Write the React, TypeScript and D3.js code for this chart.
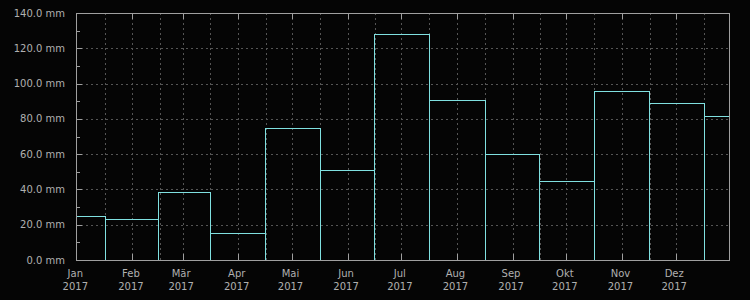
import React from "react";
import * as d3 from "d3";

// Monthly bars, each centred on the first day of its month
const monthStarts: string[] = [
  "2017-01-01", "2017-02-01", "2017-03-01", "2017-04-01", "2017-05-01", "2017-06-01",
  "2017-07-01", "2017-08-01", "2017-09-01", "2017-10-01", "2017-11-01", "2017-12-01", "2018-01-01",
];
const rainValues: number[] = [25, 23, 38.4, 15.1, 74.7, 50.8, 128, 90.5, 60, 44.6, 95.6, 88.8, 81.5];

const monthLabels: string[] = ["Jan", "Feb", "Mär", "Apr", "Mai", "Jun", "Jul", "Aug", "Sep", "Okt", "Nov", "Dez"];
const yearLabel = "2017";
const yTicks: number[] = [0, 20, 40, 60, 80, 100, 120, 140];
const yMinorTicks: number[] = [10, 30, 50, 70, 90, 110, 130];

const W = 750, H = 300;
const M = { left: 76, right: 729, top: 13, bottom: 260 };

const BG = "#050505";
const AXIS = "#a0a0a0";
const GRID = "#555555";
const TEXT = "#b0b0b0";
const BAR = "#80e0e0";
const FONT = "'DejaVu Sans', sans-serif";

export default function App() {
  const x = d3
    .scaleUtc()
    .domain([new Date(Date.UTC(2016, 11, 31, 13)), new Date(Date.UTC(2017, 11, 30, 17))])
    .range([M.left, M.right]);
  const y = d3.scaleLinear().domain([0, 140]).range([M.bottom, M.top]);

  const starts = monthStarts.map((s) => d3.utcParse("%Y-%m-%d")(s) as Date);
  const prev = d3.utcMonth.offset(starts[0], -1);
  const next = d3.utcMonth.offset(starts[starts.length - 1], 1);
  const all = [prev, ...starts, next];
  const mid = (a: Date, b: Date) => new Date((a.getTime() + b.getTime()) / 2);
  const px = (v: number) => Math.round(v) + 0.5;

  const bars = starts.map((d, i) => {
    const x0 = px(x(mid(all[i], all[i + 1])));
    const x1 = px(x(mid(all[i + 1], all[i + 2])));
    return { x0, x1, top: px(y(rainValues[i])) };
  });

  const monthTicks = d3.utcMonth.range(new Date(Date.UTC(2017, 0, 1)), new Date(Date.UTC(2018, 0, 1)));
  const midTicks = monthTicks.map((d) => new Date(d.getTime() + 15.5 * 86400000));

  return (
    <svg width={W} height={H} style={{ position: "absolute", left: 0, top: 0, display: "block" }}>
      <rect x={0} y={0} width={W} height={H} fill={BG} />
      <defs>
        <clipPath id="plot">
          <rect x={M.left} y={M.top} width={M.right - M.left} height={M.bottom - M.top} />
        </clipPath>
      </defs>
      {/* grid */}
      <g stroke={GRID} strokeWidth={1} strokeDasharray="2,3" shapeRendering="crispEdges">
        {yTicks.slice(1, -1).map((t) => (
          <line key={"gy" + t} x1={M.left} x2={M.right} y1={px(y(t))} y2={px(y(t))} />
        ))}
        {[...monthTicks.slice(1), ...midTicks].map((d, i) => {
          const xx = px(x(d));
          return xx > M.left + 1 && xx < M.right - 1 ? (
            <line key={"gx" + i} x1={xx} x2={xx} y1={M.top} y2={M.bottom} />
          ) : null;
        })}
      </g>
      {/* bars */}
      <g clipPath="url(#plot)" fill="none" stroke={BAR} strokeWidth={1} shapeRendering="crispEdges">
        {bars.map((b, i) => (
          <path key={"b" + i} d={`M${b.x0},${M.bottom + 0.5}V${b.top}H${b.x1}V${M.bottom + 0.5}`} />
        ))}
      </g>
      {/* frame */}
      <rect
        x={M.left + 0.5}
        y={M.top + 0.5}
        width={M.right - M.left}
        height={M.bottom - M.top}
        fill="none"
        stroke={AXIS}
        strokeWidth={1}
        shapeRendering="crispEdges"
      />
      {/* ticks */}
      <g stroke={AXIS} strokeWidth={1} shapeRendering="crispEdges">
        {yTicks.map((t) => (
          <line key={"ty" + t} x1={M.left} x2={M.left + 6} y1={px(y(t))} y2={px(y(t))} />
        ))}
        {yMinorTicks.map((t) => (
          <line key={"tym" + t} x1={M.left} x2={M.left + 4} y1={px(y(t))} y2={px(y(t))} />
        ))}
        {monthTicks.slice(1).map((d, i) => {
          const xx = px(x(d));
          return (
            <g key={"tx" + i}>
              <line x1={xx} x2={xx} y1={M.bottom} y2={M.bottom - 6} />
              <line x1={xx} x2={xx} y1={M.top} y2={M.top + 6} />
            </g>
          );
        })}
      </g>
      {/* y labels */}
      <g fill={TEXT} fontFamily={FONT} fontSize={10} textAnchor="end">
        {yTicks.map((t) => (
          <text key={"ly" + t} x={65} y={y(t)} dy="0.35em">
            {d3.format(".1f")(t) + " mm"}
          </text>
        ))}
      </g>
      {/* x labels */}
      <g fill={TEXT} fontFamily={FONT} fontSize={10} textAnchor="middle">
        {monthTicks.map((d, i) => {
          const xx = x(d) - 1.5;
          return (
            <g key={"lx" + i}>
              <text x={xx} y={277}>{monthLabels[i]}</text>
              <text x={xx} y={290}>{yearLabel}</text>
            </g>
          );
        })}
      </g>
    </svg>
  );
}
